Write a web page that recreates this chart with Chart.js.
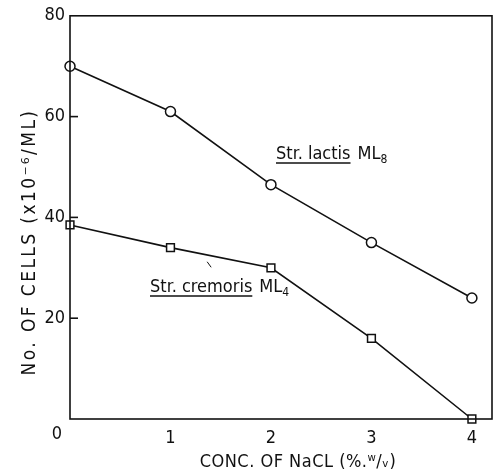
<!DOCTYPE html>
<html>
<head>
<meta charset="utf-8">
<script src="https://cdn.jsdelivr.net/npm/chart.js@4/dist/chart.umd.min.js"></script>
<style>
  html, body { margin: 0; padding: 0; background: #fff; }
  #wrap { width: 501px; height: 474px; position: relative; }
</style>
</head>
<body>
<div id="wrap"><canvas id="c" width="501" height="474"></canvas></div>
<script>
const naclConc = [0, 1, 2, 3, 4];
const lactisCells = [70, 61, 46.5, 35, 24];
const cremorisCells = [38.5, 34, 30, 16, 0];
const yTicks = [0, 20, 40, 60, 80];
const xTicks = [0, 1, 2, 3, 4];

const FONT = "'DejaVu Sans Condensed', 'DejaVu Sans', sans-serif";

function label(ctx, x0, y, main, sub, size) {
  ctx.font = size + 'px ' + FONT;
  ctx.textAlign = 'left';
  ctx.textBaseline = 'alphabetic';
  const w = ctx.measureText(main).width;
  ctx.fillText(main, x0, y);
  ctx.beginPath(); ctx.moveTo(x0, y + 4); ctx.lineTo(x0 + w, y + 4); ctx.stroke();
  const x = x0 + w;
  ctx.fillText('ML', x + 7, y);
  const w2 = ctx.measureText('ML').width;
  ctx.font = Math.round(size * 0.65) + 'px ' + FONT;
  ctx.fillText(sub, x + 7 + w2, y + 4);
}

const decor = {
  id: 'decor',
  afterDraw(chart) {
    const ctx = chart.ctx;
    const a = chart.chartArea;
    const xs = chart.scales.x, ys = chart.scales.y;
    ctx.save();
    ctx.strokeStyle = '#111';
    ctx.fillStyle = '#111';
    ctx.lineWidth = 1.6;
    ctx.strokeRect(a.left, a.top, a.right - a.left, a.bottom - a.top);
    [20, 40, 60].forEach(v => {
      const y = ys.getPixelForValue(v);
      ctx.beginPath();
      ctx.moveTo(a.left, y);
      ctx.lineTo(a.left + 8, y);
      ctx.stroke();
    });
    // origin "0"
    ctx.font = '18px ' + FONT;
    ctx.textAlign = 'center';
    ctx.textBaseline = 'middle';
    ctx.fillText('0', a.left - 13, a.bottom + 15);

    // axis titles
    ctx.font = '18px ' + FONT;
    ctx.letterSpacing = '0.5px';
    ctx.fillText('CONC. OF NaCL (%.ʷ/ᵥ)', 298, 462);
    ctx.save();
    ctx.translate(30, 242);
    ctx.rotate(-Math.PI / 2);
    ctx.font = '19px ' + FONT;
    ctx.letterSpacing = '2.4px';
    ctx.fillText('No. OF CELLS (x10⁻⁶/ML)', 0, 0);
    ctx.restore();
    ctx.letterSpacing = '0px';

    // series annotations
    ctx.lineWidth = 1.4;
    label(ctx, 276, 159, 'Str. lactis', '8', 18);
    label(ctx, 150, 292, 'Str. cremoris', '4', 18);

    // stray pointer mark
    ctx.lineWidth = 1;
    ctx.beginPath();
    ctx.moveTo(xs.getPixelForValue(1.365), ys.getPixelForValue(31.2));
    ctx.lineTo(xs.getPixelForValue(1.405), ys.getPixelForValue(30.1));
    ctx.stroke();
    ctx.restore();
  }
};

new Chart(document.getElementById('c'), {
  type: 'line',
  data: {
    datasets: [
      {
        label: 'Str. lactis ML8',
        data: naclConc.map((x, i) => ({ x, y: lactisCells[i] })),
        borderColor: '#111',
        borderWidth: 1.6,
        pointStyle: 'circle',
        pointRadius: 5,
        pointBackgroundColor: '#fff',
        pointBorderColor: '#111',
        pointBorderWidth: 1.5,
        tension: 0,
        clip: false
      },
      {
        label: 'Str. cremoris ML4',
        data: naclConc.map((x, i) => ({ x, y: cremorisCells[i] })),
        borderColor: '#111',
        borderWidth: 1.6,
        pointStyle: 'rect',
        pointRadius: 5.5,
        pointBackgroundColor: '#fff',
        pointBorderColor: '#111',
        pointBorderWidth: 1.5,
        tension: 0,
        clip: false
      }
    ]
  },
  options: {
    responsive: false,
    animation: false,
    devicePixelRatio: 1,
    layout: { padding: { top: 15, right: 9, left: 0, bottom: 0 } },
    plugins: { legend: { display: false }, tooltip: { enabled: false } },
    scales: {
      x: {
        type: 'linear',
        min: 0,
        max: 4.2,
        afterBuildTicks: s => { s.ticks = xTicks.map(v => ({ value: v })); },
        afterFit: s => { s.height = 55; },
        grid: { display: false, drawTicks: false },
        border: { display: false },
        ticks: {
          color: '#111',
          font: { family: FONT, size: 18 },
          padding: 9,
          maxRotation: 0,
          callback: v => (v === 0 ? '' : String(v))
        }
      },
      y: {
        min: 0,
        max: 80,
        afterBuildTicks: s => { s.ticks = yTicks.map(v => ({ value: v })); },
        afterFit: s => { s.width = 70; },
        grid: { display: false, drawTicks: false },
        border: { display: false },
        ticks: {
          color: '#111',
          font: { family: FONT, size: 18 },
          padding: 5,
          callback: v => (v === 0 ? '' : String(v))
        }
      }
    }
  },
  plugins: [decor]
});
</script>
</body>
</html>
